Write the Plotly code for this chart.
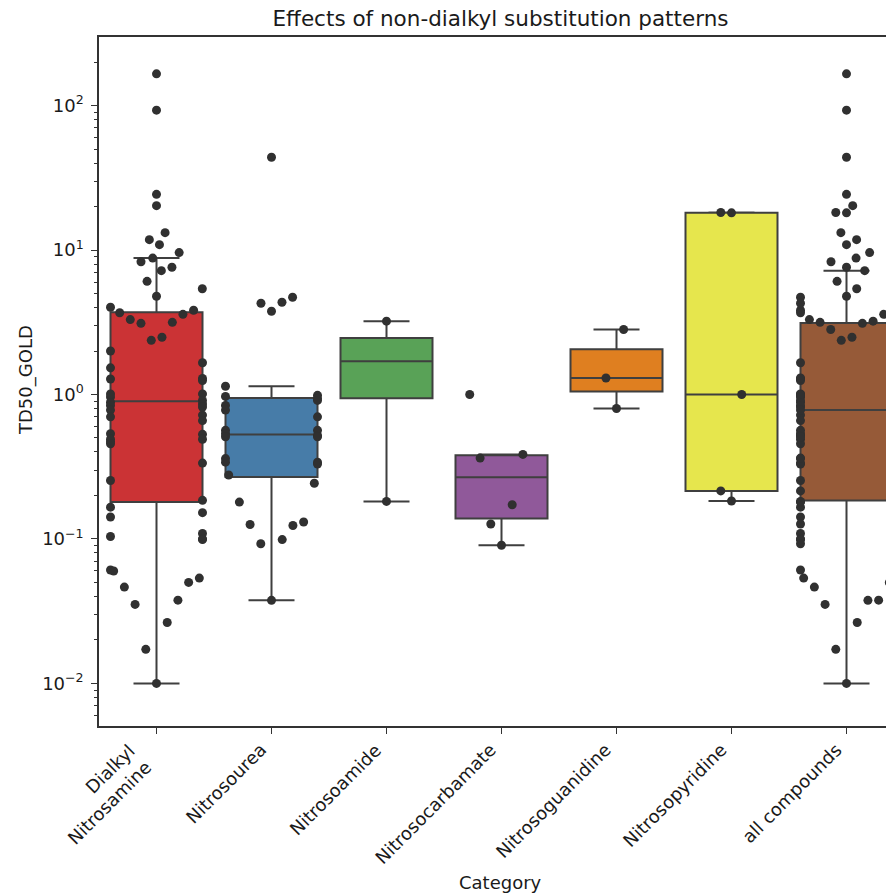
import numpy as np
import plotly.graph_objects as go

categories = ["Dialkyl<br>Nitrosamine", "Nitrosourea", "Nitrosoamide", "Nitrosocarbamate",
              "Nitrosoguanidine", "Nitrosopyridine", "all compounds"]

dialkyl = [166, 93, 24.3, 20.3, 13.2, 11.8, 10.9, 9.6, 8.8, 8.3, 7.6, 7.2, 6.07, 5.4, 4.79,
           4.02, 3.83, 3.68, 3.59, 3.3, 3.16, 3.11, 2.49, 2.37,
           1.66, 1.29, 1.01, 0.96, 0.885, 0.84, 0.78, 0.72, 0.66, 0.53, 0.49, 0.47, 0.335,
           0.185, 0.152, 0.109, 0.100, 0.061, 0.060,
           2.0, 1.53, 1.28, 1.25, 1.01, 0.91, 0.86, 0.82, 0.70, 0.535, 0.49, 0.456, 0.254,
           0.166, 0.142, 0.104, 0.099,
           0.0464, 0.0352, 0.0172, 0.01, 0.0264, 0.0377, 0.050, 0.0536]
nitrosourea = [43.9, 4.71, 4.35, 4.28, 3.77, 1.14, 0.987, 0.97, 0.94, 0.91, 0.84, 0.78, 0.70,
               0.565, 0.565, 0.535, 0.52, 0.51, 0.51, 0.36, 0.34, 0.34, 0.33, 0.277, 0.243,
               0.18, 0.131, 0.126, 0.124, 0.099, 0.0926, 0.0376]
nitrosoamide = [3.22, 0.182]
nitrosocarbamate = [1.0, 0.385, 0.363, 0.1725, 0.127, 0.0904]
nitrosoguanidine = [2.82, 1.30, 0.80]
nitrosopyridine = [18.2, 18.1, 1.0, 0.215, 0.183]
all_compounds = (dialkyl + nitrosourea + nitrosoamide + nitrosocarbamate
                 + nitrosoguanidine + nitrosopyridine)

groups = [dialkyl, nitrosourea, nitrosoamide, nitrosocarbamate,
          nitrosoguanidine, nitrosopyridine, all_compounds]

colors = ["#cb3335", "#477ca8", "#59a257", "#90599a", "#df7f20", "#e6e64d", "#965a38"]
line_color = "#3f3f3f"
point_color = "#303030"
text_color = "#1a1a1a"

# layout geometry (page has an 8px body margin)
W, H = 894, 894
OFF = 8
ML, MT = 99 - OFF, 37 - OFF
PH = 689
MB = H - MT - PH
MR = 0
PW = W - ML - MR
PX_PER_CAT = 115.0
x_range = [-0.5, -0.5 + PW / PX_PER_CAT]
y_range = [-2.295, 2.475]

BOX_W = 0.8
DOT = 9.0        # drawn marker diameter (px)
SWARM_D = 10.2   # swarm collision diameter (px)


def box_stats(v):
    v = np.sort(np.asarray(v, dtype=float))
    q1, med, q3 = np.percentile(v, [25, 50, 75])
    iqr = q3 - q1
    lo = v[v >= q1 - 1.5 * iqr].min()
    hi = v[v <= q3 + 1.5 * iqr].max()
    return q1, med, q3, lo, hi


# the swarm was laid out on a linear y scale (autoscaled with 5% margins),
# before the axis was switched to log
all_vals = np.asarray(all_compounds, dtype=float)
lin_lo = all_vals.min() - 0.05 * (all_vals.max() - all_vals.min())
lin_hi = all_vals.max() + 0.05 * (all_vals.max() - all_vals.min())
LIN_PX_PER_UNIT = PH / (lin_hi - lin_lo)


def beeswarm(vals, d, half_width):
    y = np.asarray(vals, dtype=float) * LIN_PX_PER_UNIT
    order = np.argsort(y, kind="stable")
    placed = []
    offs = np.zeros(len(y))
    for i in order:
        yi = y[i]
        neigh = []
        for px, py in reversed(placed):
            if yi - py < d:
                neigh.append((px, py))
            else:
                break
        neigh = list(reversed(neigh))
        cands = [0.0]
        left_first = True
        for px, py in neigh:
            dx = np.sqrt(max(d * d - (yi - py) ** 2, 0)) * 1.05
            pair = [px - dx, px + dx] if left_first else [px + dx, px - dx]
            cands.extend(pair)
            left_first = not left_first
        cands = np.array(cands)
        cands = cands[np.argsort(np.abs(cands), kind="stable")]
        chosen = cands[-1]
        for c in cands:
            if all((c - px) ** 2 + (yi - py) ** 2 >= d * d for px, py in neigh):
                chosen = c
                break
        placed.append((chosen, yi))
        offs[i] = chosen
    offs = np.clip(offs, -half_width, half_width)
    return offs / PX_PER_CAT


fig = go.Figure()

for i, (vals, col) in enumerate(zip(groups, colors)):
    q1, med, q3, lo, hi = box_stats(vals)
    fig.add_trace(go.Box(
        x=[i], q1=[q1], median=[med], q3=[q3], lowerfence=[lo], upperfence=[hi],
        width=BOX_W, whiskerwidth=0.5, fillcolor=col,
        line=dict(color=line_color, width=2), boxpoints=False,
        showlegend=False, hoverinfo="skip"))

for i, vals in enumerate(groups):
    offs = beeswarm(vals, SWARM_D, BOX_W / 2 * PX_PER_CAT)
    fig.add_trace(go.Scatter(
        x=i + offs, y=vals, mode="markers",
        marker=dict(color=point_color, size=DOT, line=dict(width=0)),
        showlegend=False, hoverinfo="skip"))

major = [1e-2, 1e-1, 1e0, 1e1, 1e2]
major_text = ["10<sup>−2</sup>", "10<sup>−1</sup>", "10<sup>0</sup>", "10<sup>1</sup>", "10<sup>2</sup>"]
minor_vals = [m * 10.0 ** e for e in range(-3, 3) for m in range(2, 10)]

font_family = "DejaVu Sans"
TICK_SIZE = 18

# category tick labels: rotated 45°, right/top of rotated box at the tick
cat_labels = [
    dict(text=c, xref="x", yref="paper", x=i, y=0, yshift=-12,
         xanchor="right", yanchor="top", textangle=-45, align="right",
         showarrow=False, borderpad=0, font=dict(size=TICK_SIZE))
    for i, c in enumerate(categories)
]

fig.update_layout(
    width=W, height=H,
    margin=dict(l=ML, r=MR, t=MT, b=MB, pad=0),
    plot_bgcolor="white", paper_bgcolor="white",
    font=dict(family=font_family, size=TICK_SIZE, color=text_color),
    title=dict(text="Effects of non-dialkyl substitution patterns",
               x=(500.5 - OFF) / W, xanchor="center", y=1 - (18 - OFF) / H, yanchor="middle",
               font=dict(size=21.5, color=text_color)),
    xaxis=dict(range=x_range, tickmode="array", tickvals=list(range(len(categories))),
               showticklabels=False, ticks="outside", ticklen=6,
               tickwidth=1.2, tickcolor="#333333",
               showline=True, linecolor="#333333", linewidth=1.5, mirror=True,
               showgrid=False, zeroline=False, automargin=False),
    yaxis=dict(type="log", range=y_range, tickmode="array", tickvals=major,
               ticktext=major_text, ticks="outside", ticklen=6, tickwidth=1.2,
               tickcolor="#333333", ticklabelstandoff=4,
               minor=dict(tickmode="array", tickvals=minor_vals, ticks="outside",
                          ticklen=3.5, tickwidth=1, tickcolor="#333333", showgrid=False),
               showline=True, linecolor="#333333", linewidth=1.5, mirror=True,
               showgrid=False, zeroline=False, automargin=False,
               tickfont=dict(size=TICK_SIZE)),
    annotations=cat_labels + [
        dict(text="Category", xref="paper", yref="paper",
             x=(500 - OFF - ML) / PW, y=-(883 - OFF - (MT + PH)) / PH,
             xanchor="center", yanchor="middle", showarrow=False,
             font=dict(size=TICK_SIZE)),
        dict(text="TD50_GOLD", xref="paper", yref="paper",
             x=-(ML - (26 - OFF)) / PW, y=(MT + PH - (380 - OFF)) / PH, textangle=-90,
             xanchor="center", yanchor="middle", showarrow=False,
             font=dict(size=TICK_SIZE)),
    ],
)

fig.write_html("out.html")
